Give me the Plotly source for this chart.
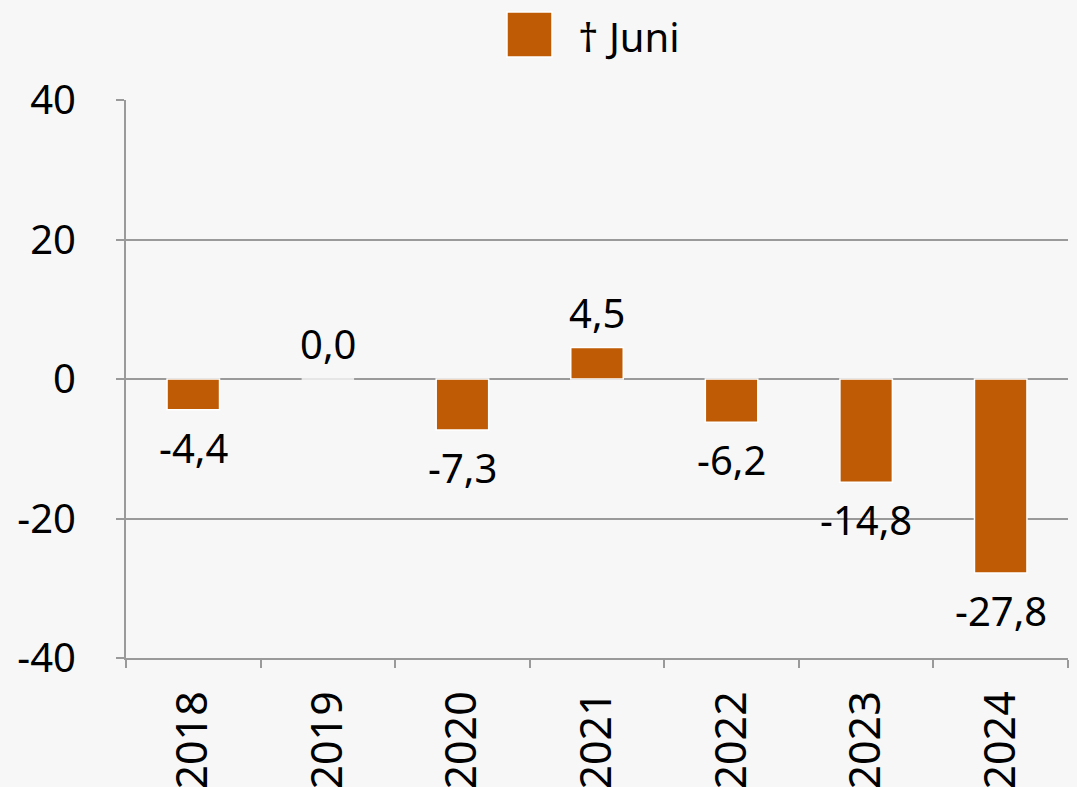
import plotly.graph_objects as go

years = ["2018", "2019", "2020", "2021", "2022", "2023", "2024"]
values = [-4.4, 0.0, -7.3, 4.5, -6.2, -14.8, -27.8]
labels = ["-4,4", "0,0", "-7,3", "4,5", "-6,2", "-14,8", "-27,8"]
series_name = "† Juni"
y_ticks = [-40, -20, 0, 20, 40]
y_ticktext = ["-40", "-20", "0", "20", "40"]

BAR = "#BF5A05"
BG = "#F7F7F7"
GRID = "#9A9A9A"
FONT = "Noto Sans"
FS = 40

fig = go.Figure()
fig.add_trace(go.Bar(
    x=list(range(len(years))), y=values, name=series_name,
    marker=dict(color=BAR, line=dict(color="white", width=1.5)),
    width=0.39, showlegend=False,
))

for i, (v, t) in enumerate(zip(values, labels)):
    fig.add_annotation(
        x=i, y=v, text=t, showarrow=False,
        yanchor="bottom" if v >= 0 else "top",
        yshift=6 if v >= 0 else -8,
        font=dict(family=FONT, size=FS, color="black"),
    )

L, R, T, B = 126, 9, 100, 129
PW = 1077 - L - R
PH = 787 - T - B

# legend drawn manually (large square + label)
fig.add_shape(type="rect", xref="paper", yref="paper",
              x0=(507 - L) / PW, x1=(552 - L) / PW,
              y0=(787 - B - 57) / PH, y1=(787 - B - 12) / PH,
              fillcolor=BAR, line=dict(color="white", width=1.5))
fig.add_annotation(xref="paper", yref="paper",
                   x=(576 - L) / PW, y=(787 - B - 36) / PH,
                   xanchor="left", yanchor="middle", showarrow=False,
                   text=series_name,
                   font=dict(family=FONT, size=FS, color="black"))

fig.update_layout(
    width=1077, height=787,
    paper_bgcolor=BG, plot_bgcolor=BG,
    margin=dict(l=L, r=R, t=T, b=B),
    font=dict(family=FONT, size=FS, color="black"),
)
fig.update_xaxes(
    range=[-0.5, len(years) - 0.5],
    tickvals=list(range(len(years))), ticktext=years, tickangle=-90,
    showline=True, linecolor=GRID, linewidth=2,
    ticks="", showgrid=False, tickfont=dict(family=FONT, size=43),
    ticklabelstandoff=14,
    automargin=False, zeroline=False,
)
# category boundary tick marks on the bottom axis
fig.update_xaxes(minor=dict(tickvals=[i - 0.5 for i in range(len(years) + 1)],
                            ticks="outside", ticklen=8, tickcolor=GRID, tickwidth=2,
                            showgrid=False))
fig.update_yaxes(
    range=[-40, 40], tickvals=y_ticks, ticktext=y_ticktext,
    showline=True, linecolor=GRID, linewidth=2,
    ticks="outside", ticklen=8, tickcolor=GRID, tickwidth=2,
    showgrid=True, gridcolor=GRID, gridwidth=2,
    zeroline=True, zerolinecolor=GRID, zerolinewidth=2,
    tickfont=dict(family=FONT, size=FS),
    ticklabelstandoff=32, automargin=False,
)

fig.write_html("out.html", config={"displayModeBar": False},
               post_script="document.body.style.margin='0';document.body.style.background='%s';" % BG)
